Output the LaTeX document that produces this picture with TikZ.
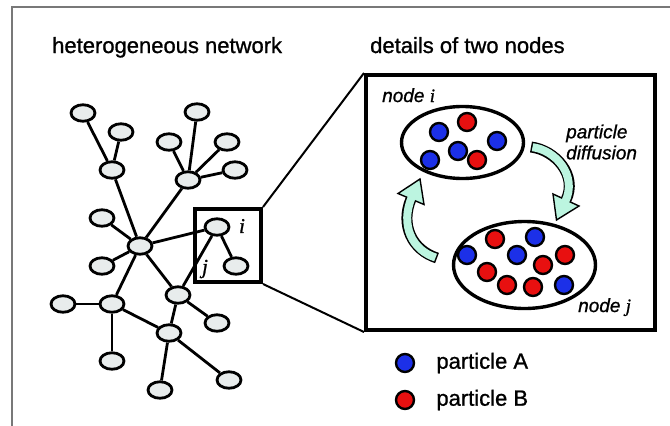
\documentclass[tikz,border=0pt]{standalone}
\usepackage{fontspec}
\setmainfont{Liberation Sans}[FakeBold=1]
\newfontfamily\serifit{Liberation Serif}[FakeBold=1]
\usepackage{xcolor}
\usetikzlibrary{shapes.geometric,positioning}
\definecolor{partblue}{RGB}{28,48,232}
\definecolor{partred}{RGB}{232,16,16}
\definecolor{vertfill}{RGB}{232,236,236}
\definecolor{flowcyan}{RGB}{188,245,224}
\definecolor{framegray}{RGB}{120,120,120}

\begin{document}
\begin{tikzpicture}[x=1pt,y=-1pt,
  vert/.style={ellipse,draw,line width=2.8pt,fill=vertfill,minimum width=24pt,minimum height=16.5pt,inner sep=0pt},
  link/.style={line width=2.8pt},
  site/.style={ellipse,draw,line width=3.4pt,inner sep=0pt},
  pA/.style={circle,draw,line width=2.4pt,fill=partblue,minimum size=18pt,inner sep=0pt},
  pB/.style={pA,fill=partred},
  ttl/.style={font=\fontsize{22}{26}\selectfont,inner sep=0pt},
  lbl/.style={font=\fontsize{19}{21}\selectfont\itshape,inner sep=0pt},
  ijlbl/.style={font=\fontsize{21}{21}\selectfont\serifit\itshape,inner sep=0pt}]
  \useasboundingbox (0,0) rectangle (670,426);
  % page frame, only top and left edges
  \draw[framegray,line width=2pt] (12,426) -- (12,7) -- (670,7);

  % titles
  \node[ttl,anchor=base west] (netttl) at (52,53) {heterogeneous network};
  \node[ttl,anchor=base west] (detttl) at (370,53) {details of two nodes};

  % the network
  \foreach \n/\x/\y in {a/83/113,b/121/132,c/112/170,d/197/112,e/169/142,f/227/142,g/235/170,
      h/188/180,k/102/218,m/140/246,vi/217/227,vj/236/266,p/102/266,q/178/295,r/112/304,
      s/63/304,t/217/323,u/169/333,v/112/361,w/160/390,z/229/380}
    \node[vert] (\n) at (\x,\y) {};
  \foreach \a/\b in {a/c,b/c,c/m,d/h,e/h,f/h,g/h,h/m,k/m,p/m,m/vi,m/q,m/r,
      vi/q,vi/vj,q/t,q/u,r/s,r/u,r/v,u/w,u/z}
    \draw[link] (\a) -- (\b);
  \node[ijlbl] (labi) at (242,226) {i};
  \node[ijlbl] (labj) at (205,269) {j};

  % zoom box and the enlarged view
  \node[draw,line width=4pt,minimum width=66pt,minimum height=73pt,inner sep=0pt] (zoombox) at (228,245.5) {};
  \node[draw,line width=4pt,minimum width=289pt,minimum height=255pt,inner sep=0pt] (bigbox) at (510.5,202.5) {};
  \draw[line width=2pt] (zoombox.north east) -- (bigbox.north west);
  \draw[line width=2pt] (zoombox.south east) -- (bigbox.south west);

  % the two nodes with their particles
  \node[site,minimum width=122pt,minimum height=72pt] (sitei) at (462.5,142.5) {};
  \node[site,minimum width=142pt,minimum height=87pt] (sitej) at (524.5,265) {};
  \foreach \s/\x/\y [count=\k] in {pA/439/132,pB/467/122,pA/497/141,pA/458/151,pA/430/160,pB/477/160}
    \node[\s] (pi\k) at (\x,\y) {};
  \foreach \s/\x/\y [count=\k] in {pB/495/239,pA/535/237,pA/467/255,pA/517/255,pB/565/255,
      pB/543/265,pB/487/272,pB/507/285,pB/533/287,pA/564/285}
    \node[\s] (pj\k) at (\x,\y) {};
  \node[lbl,anchor=base west] (namei) at (382,102) {node {\serifit i}};
  \node[lbl,anchor=base west] (namej) at (578,312) {node {\serifit j}};

  % diffusion arrows
  \coordinate (ftail) at (531,147);
  \coordinate (fbase) at (566,200);
  \coordinate (btail) at (437,258);
  \coordinate (bbase) at (411,199);
  \draw[line width=11pt] (ftail) .. controls (555,150) and (578,175) .. (fbase);
  \filldraw[fill=flowcyan,line width=1.4pt] (553,194) -- (556.5,220) -- (579,206) -- cycle;
  \draw[flowcyan,line width=8pt,shorten <=1.5pt,shorten >=-2pt] (ftail) .. controls (555,150) and (578,175) .. (fbase);
  \draw[line width=11pt] (btail) .. controls (412,250) and (400,225) .. (bbase);
  \filldraw[fill=flowcyan,line width=1.4pt] (424,204.5) -- (420,179) -- (398,193.5) -- cycle;
  \draw[flowcyan,line width=8pt,shorten <=1.5pt,shorten >=-2pt] (btail) .. controls (412,250) and (400,225) .. (bbase);
  \node[lbl,anchor=west,align=left] (difflbl) at (566,142) {particle\\diffusion};

  % legend
  \node[pA] (keyA) at (405,363) {};
  \node[pB] (keyB) at (405,400) {};
  \node[ttl,right=21pt of keyA] (txtA) {particle A};
  \node[ttl,right=21pt of keyB] (txtB) {particle B};
\end{tikzpicture}
\end{document}
